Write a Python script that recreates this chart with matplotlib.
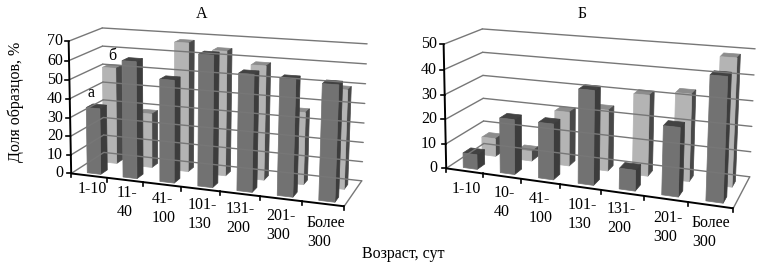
import numpy as np
import matplotlib
matplotlib.use('Agg')
import matplotlib.pyplot as plt
from matplotlib.patches import Polygon

plt.rcParams['font.family'] = ['Liberation Serif', 'DejaVu Serif']

labels_a = ['1-10', '11-\n40', '41-\n100', '101-\n130', '131-\n200', '201-\n300', 'Более\n300']
labels_b = ['1-10', '10-\n40', '41-\n100', '101-\n130', '131-\n200', '201-\n300', 'Более\n300']
ticks_a = [0, 10, 20, 30, 40, 50, 60, 70]
ticks_b = [0, 10, 20, 30, 40, 50]

# series a (front row) and b (back row)
a_front = [35, 61, 53, 67, 59, 58, 57]
a_back = [52, 29, 68, 65, 59, 37, 50]
b_front = [6, 22, 22, 36.5, 8, 26, 46]
b_back = [7.5, 4, 22, 24.5, 32, 34, 49]

# box corners in pixels: (x, depth, height) -> (px, py)
box_a = {(0, 0, 0): (72, 173), (0, 0, 1): (68, 41), (1, 0, 0): (344, 207),
         (0, 1, 0): (103, 153), (0, 1, 1): (103, 28),
         (1, 1, 0): (362, 180), (1, 1, 1): (367, 44)}
box_b = {(0, 0, 0): (447, 168), (0, 0, 1): (443, 44), (1, 0, 0): (733, 209),
         (0, 1, 0): (483, 144), (0, 1, 1): (483, 29),
         (1, 1, 0): (750, 176), (1, 1, 1): (755, 49)}


def fit_camera(box):
    rows, rhs = [], []
    for (x, y, z), (u, v) in box.items():
        rows.append([x, y, z, 1, 0, 0, 0, 0, -u*x, -u*y, -u*z])
        rhs.append(u)
        rows.append([0, 0, 0, 0, x, y, z, 1, -v*x, -v*y, -v*z])
        rhs.append(v)
    p = np.linalg.lstsq(np.array(rows, float), np.array(rhs, float), rcond=None)[0]
    return np.append(p, 1).reshape(3, 4)


def draw_panel(ax, box, ticks, front, back, labels, label_x, label_y, tick_right):
    cam = fit_camera(box)
    top = ticks[-1]
    n = len(front)

    def pr(c, d, v):
        h = cam @ np.array([c/n, d, v/top, 1.0])
        return h[0]/h[2], h[1]/h[2]

    def line(p0, p1, **kw):
        a, b = pr(*p0), pr(*p1)
        ax.plot([a[0], b[0]], [a[1], b[1]], **kw)

    grid = dict(color='#777777', lw=1.0, solid_capstyle='round')
    for t in ticks:
        line((0, 0, t), (0, 1, t), **grid)
        line((0, 1, t), (n, 1, t), **grid)
    line((n, 0, 0), (n, 1, 0), **grid)

    def bar(i, v, d0, d1, face, side, cap):
        c0, c1 = i + 0.36, i + 0.74
        ax.add_patch(Polygon([pr(c0, d0, v), pr(c1, d0, v), pr(c1, d1, v), pr(c0, d1, v)],
                             fc=cap, ec=cap, lw=0.5))
        ax.add_patch(Polygon([pr(c1, d0, 0), pr(c1, d1, 0), pr(c1, d1, v), pr(c1, d0, v)],
                             fc=side, ec=side, lw=0.5))
        ax.add_patch(Polygon([pr(c0, d0, 0), pr(c1, d0, 0), pr(c1, d0, v), pr(c0, d0, v)],
                             fc=face, ec=face, lw=0.5))

    for i, v in enumerate(back):
        bar(i, v, 0.6, 0.8, '#b4b4b4', '#484848', '#8c8c8c')
    for i, v in enumerate(front):
        bar(i, v, 0.1, 0.3, '#727272', '#3c3c3c', '#424242')

    axis = dict(color='black', lw=1.4, solid_capstyle='butt')
    line((0, 0, 0), (0, 0, top), **axis)
    line((0, 0, 0), (n, 0, 0), **axis)
    for t in ticks:
        x, y = pr(0, 0, t)
        ax.plot([x-4, x], [y, y], color='black', lw=1.2)
        ax.text(tick_right, y, str(t), ha='right', va='center', fontsize=11.5)
    for i in range(n+1):
        x, y = pr(i, 0, 0)
        ax.plot([x, x], [y, y+4], color='black', lw=1.2)
    for s, x, y in zip(labels, label_x, label_y):
        ax.text(x, y-7, s, ha='left', va='top', fontsize=11.5, linespacing=1.22, multialignment='left')


fig = plt.figure(figsize=(7.68, 2.66), dpi=100)
ax = fig.add_axes([0, 0, 1, 1])
ax.set_xlim(0, 768)
ax.set_ylim(266, 0)
ax.axis('off')

draw_panel(ax, box_a, ticks_a, a_front, a_back, labels_a,
           [78, 117, 152, 188, 226, 266, 307], [188, 192, 198, 204, 208, 215, 222], 63)
draw_panel(ax, box_b, ticks_b, b_front, b_back, labels_b,
           [452, 494, 529, 568, 607, 653, 692], [188, 192, 198, 204, 208, 217, 222], 437)

ax.text(202, 14, 'А', ha='center', va='center', fontsize=11.5)
ax.text(582, 14, 'Б', ha='center', va='center', fontsize=11.5)
ax.text(91, 93, 'а', ha='center', va='center', fontsize=11.5)
ax.text(112, 56, 'б', ha='center', va='center', fontsize=11.5)
ax.text(16, 102, 'Доля образцов, %', rotation=90, ha='center', va='center', fontsize=11.5)
ax.text(403, 254, 'Возраст, сут', ha='center', va='center', fontsize=11.5)

fig.savefig('out.png', dpi=100)
